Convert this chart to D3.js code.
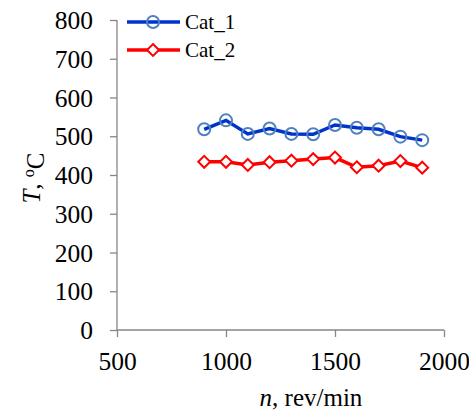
<!DOCTYPE html>
<html>
<head>
<meta charset="utf-8">
<script src="https://cdn.jsdelivr.net/npm/d3@7"></script>
<style>
  body { margin: 0; background: #fff; }
  text { font-family: "Liberation Serif", "Times New Roman", serif; fill: #000; }
</style>
</head>
<body>
<svg id="chart" width="469" height="412"></svg>
<script>
// data
var speed = [900, 1000, 1100, 1200, 1300, 1400, 1500, 1600, 1700, 1800, 1900];
var cat1 = [518, 541, 506, 520, 506, 505, 529, 522, 518, 499, 490];
var cat2 = [434, 434, 426, 433, 437, 441, 445, 420, 424, 436, 419];
var xTicks = [500, 1000, 1500, 2000];
var yTicks = [0, 100, 200, 300, 400, 500, 600, 700, 800];

var svg = d3.select("#chart");

var x = d3.scaleLinear().domain([500, 2000]).range([117, 444]);
var y = d3.scaleLinear().domain([0, 800]).range([330, 20]);

// axes
var xAxis = svg.append("g")
  .attr("transform", "translate(0," + y(0) + ")")
  .call(d3.axisBottom(x).tickValues(xTicks).tickSize(7).tickPadding(15).tickFormat(d3.format("d")));
var yAxis = svg.append("g")
  .attr("transform", "translate(" + x(500) + ",0)")
  .call(d3.axisLeft(y).tickValues(yTicks).tickSize(7).tickPadding(17));

[xAxis, yAxis].forEach(function(a) {
  a.attr("font-family", null).attr("font-size", null);
  a.select(".domain").attr("stroke", "#868686").attr("stroke-width", 1.3);
  a.selectAll(".tick line").attr("stroke", "#868686").attr("stroke-width", 1.3);
  a.selectAll(".tick text").attr("fill", "#000").attr("font-size", 25.5);
});
// domain without end caps
xAxis.select(".domain").attr("d", "M" + x(500) + ",0H" + x(2000));
yAxis.select(".domain").attr("d", "M0," + y(0) + "V" + y(800));
yAxis.selectAll(".tick text").attr("dy", "0.34em");

// lines
var line = d3.line()
  .x(function(d) { return x(d[0]); })
  .y(function(d) { return y(d[1]); });

var s1 = d3.zip(speed, cat1);
var s2 = d3.zip(speed, cat2);

svg.append("path").datum(s1).attr("d", line)
  .attr("fill", "none").attr("stroke", "#0033cc").attr("stroke-width", 3.5);
svg.append("path").datum(s2).attr("d", line)
  .attr("fill", "none").attr("stroke", "#ff0000").attr("stroke-width", 3.5);

svg.selectAll("circle.m1").data(s1).enter().append("circle")
  .attr("class", "m1")
  .attr("cx", function(d) { return x(d[0]); })
  .attr("cy", function(d) { return y(d[1]); })
  .attr("r", 6)
  .attr("fill", "none").attr("stroke", "#4f81bd").attr("stroke-width", 2);

var diamond = d3.symbol().type(d3.symbolDiamond2).size(90);
svg.selectAll("path.m2").data(s2).enter().append("path")
  .attr("class", "m2")
  .attr("transform", function(d) { return "translate(" + x(d[0]) + "," + y(d[1]) + ")"; })
  .attr("d", diamond)
  .attr("fill", "#fff").attr("stroke", "#ff0000").attr("stroke-width", 2);

// legend
var legend = [
  { name: "Cat_1", color: "#0033cc", y: 22 },
  { name: "Cat_2", color: "#ff0000", y: 50 }
];
legend.forEach(function(l, i) {
  svg.append("line").attr("x1", 127).attr("x2", 180).attr("y1", l.y).attr("y2", l.y)
    .attr("stroke", l.color).attr("stroke-width", 3.5);
  if (i === 0) {
    svg.append("circle").attr("cx", 153).attr("cy", l.y).attr("r", 6)
      .attr("fill", "none").attr("stroke", "#4f81bd").attr("stroke-width", 2);
  } else {
    svg.append("path").attr("d", diamond)
      .attr("transform", "translate(153," + l.y + ")")
      .attr("fill", "#fff").attr("stroke", "#ff0000").attr("stroke-width", 2);
  }
  svg.append("text").attr("x", 185).attr("y", l.y + 7).style("font-size", "21px").text(l.name);
});

// axis titles
var xt = svg.append("text").attr("x", 311).attr("y", 406).attr("text-anchor", "middle").style("font-size", "25px");
xt.append("tspan").style("font-style", "italic").text("n");
xt.append("tspan").text(", rev/min");

var yt = svg.append("text").attr("transform", "translate(40,178) rotate(-90)")
  .attr("text-anchor", "middle").style("font-size", "25px");
yt.append("tspan").style("font-style", "italic").text("T");
yt.append("tspan").text(", ");
yt.append("tspan").attr("dy", "-0.4em").style("font-size", "16px").text("o");
yt.append("tspan").attr("dy", "0.4em").text("C");
</script>
</body>
</html>
